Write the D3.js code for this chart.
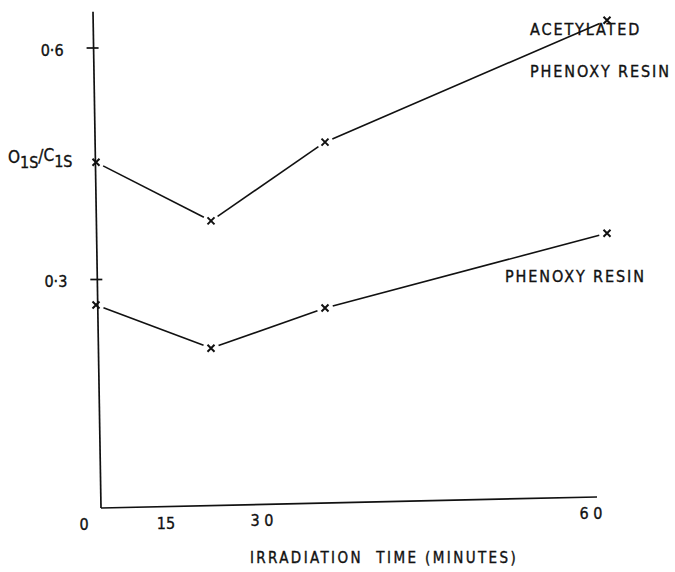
<!DOCTYPE html>
<html>
<head>
<meta charset="utf-8">
<script src="https://cdn.jsdelivr.net/npm/d3@7/dist/d3.min.js"></script>
<style>
  body { margin: 0; background: #fff; }
  svg text { font-family: "DejaVu Sans Condensed", "DejaVu Sans", sans-serif; fill: #111; stroke: #111; stroke-width: 0.35; }
</style>
</head>
<body>
<div id="chart"></div>
<script>
// irradiation times (minutes) and O1s/C1s ratios
const times = [0, 15, 30, 60];
const acetylated = [0.452, 0.376, 0.478, 0.636];
const phenoxy = [0.267, 0.211, 0.263, 0.360];
const xTickLabels = ["0", "15", "3 0", "6 0"];
const yTicks = [0.3, 0.6];
const yTickLabels = ["0·3", "0·6"];

const width = 675, height = 572;
const ink = "#111";

const svg = d3.select("#chart").append("svg")
    .attr("width", width)
    .attr("height", height);

// hand drawn: the time axis is not evenly spaced
const x = d3.scaleLinear().domain(times).range([96, 211, 325, 607]);
const xLabel = d3.scaleLinear().domain(times).range([84, 166, 262, 591]);
const y = d3.scaleLinear().domain([0, 0.6]).range([511, 48]);

// baseline tilts up a little to the right
const axisLeft = 101, axisRight = 597, axisBottom = 508, axisRise = 11;
const baseY = px => axisBottom - (px - axisLeft) * axisRise / (axisRight - axisLeft);

// y axis (slightly slanted)
svg.append("line")
    .attr("x1", 93).attr("y1", y(0.647))
    .attr("x2", axisLeft).attr("y2", axisBottom)
    .attr("stroke", ink).attr("stroke-width", 1.7);

// x axis
svg.append("line")
    .attr("x1", axisLeft).attr("y1", axisBottom)
    .attr("x2", axisRight).attr("y2", baseY(axisRight))
    .attr("stroke", ink).attr("stroke-width", 1.7);

// y ticks
const axisXAt = py => 93 + (py - y(0.647)) * (axisLeft - 93) / (axisBottom - y(0.647));
yTicks.forEach((t, i) => {
    const py = y(t);
    const ax = axisXAt(py);
    svg.append("line")
        .attr("x1", ax - 7).attr("x2", ax + 5)
        .attr("y1", py).attr("y2", py)
        .attr("stroke", ink).attr("stroke-width", 1.7);
    svg.append("text")
        .attr("x", ax - 30).attr("y", py + 3)
        .attr("text-anchor", "end")
        .attr("dominant-baseline", "middle")
        .attr("font-size", 16)
        .text(yTickLabels[i]);
});

// x tick labels
times.forEach((t, i) => {
    const px = xLabel(t);
    svg.append("text")
        .attr("x", px).attr("y", baseY(px) + 22)
        .attr("text-anchor", "middle")
        .attr("font-size", 16)
        .text(xTickLabels[i]);
});

// axis titles
svg.append("text")
    .attr("x", 384).attr("y", 563)
    .attr("text-anchor", "middle")
    .attr("font-size", 15)
    .attr("letter-spacing", 2.4)
    .attr("xml:space", "preserve")
    .text("IRRADIATION  TIME (MINUTES)");

const yt = svg.append("text")
    .attr("x", 8).attr("y", 163)
    .attr("font-size", 17);
yt.append("tspan").text("O");
yt.append("tspan").attr("dy", 5).attr("font-size", 16).text("1S");
yt.append("tspan").attr("dy", -6).text("/");
yt.append("tspan").attr("dy", -1).text("C");
yt.append("tspan").attr("dy", 6).attr("font-size", 16).text("1S");

// series: segments stop short of the markers, as in the drawing
function drawSeries(values) {
    const pts = times.map((t, i) => [x(t), y(values[i])]);
    const gap = 8;
    d3.pairs(pts).forEach(([a, b]) => {
        const dx = b[0] - a[0], dy = b[1] - a[1];
        const len = Math.hypot(dx, dy);
        const ux = dx / len, uy = dy / len;
        svg.append("line")
            .attr("x1", a[0] + ux * gap).attr("y1", a[1] + uy * gap)
            .attr("x2", b[0] - ux * gap).attr("y2", b[1] - uy * gap)
            .attr("stroke", ink).attr("stroke-width", 1.6);
    });
    const s = 3.5;
    svg.append("g").selectAll("path")
        .data(pts)
        .join("path")
        .attr("d", d => `M${d[0] - s},${d[1] - s}L${d[0] + s},${d[1] + s}M${d[0] + s},${d[1] - s}L${d[0] - s},${d[1] + s}`)
        .attr("stroke", ink).attr("stroke-width", 2);
}
drawSeries(acetylated);
drawSeries(phenoxy);

// series labels
const labelStyle = sel => sel.attr("font-size", 16).attr("letter-spacing", 1.9);
svg.append("text").attr("x", 530).attr("y", 35).call(labelStyle).text("ACETYLATED");
svg.append("text").attr("x", 530).attr("y", 77).call(labelStyle).text("PHENOXY RESIN");
svg.append("text").attr("x", 505).attr("y", 282).call(labelStyle).text("PHENOXY RESIN");
</script>
</body>
</html>
